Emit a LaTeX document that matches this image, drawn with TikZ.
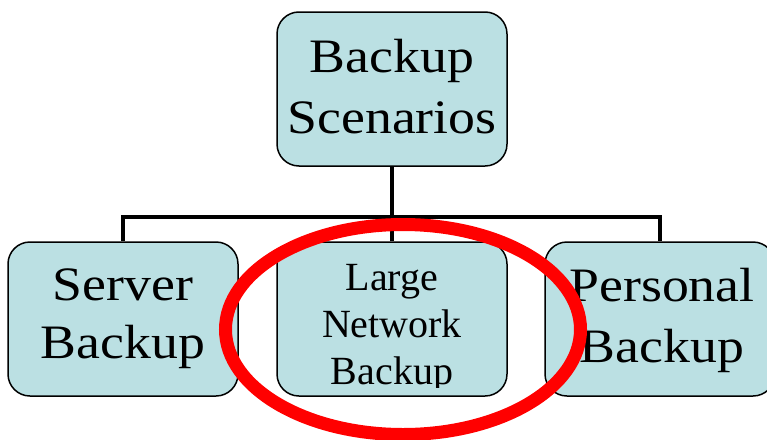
\documentclass[tikz,border=0pt]{standalone}
\usepackage{fontspec}
\usetikzlibrary{backgrounds}
\setmainfont{Liberation Serif}
\newfontfamily\wideserif[FakeStretch=1.12]{Liberation Serif}
\definecolor{boxfill}{RGB}{187,224,227}
\begin{document}
\begin{tikzpicture}[x=1pt,y=-1pt,
  box/.style={draw=black, line width=1.5pt, fill=boxfill, rounded corners=22pt,
    minimum width=230pt, minimum height=154pt, inner sep=0pt},
  link/.style={line width=4pt, draw=black},
  bigtext/.style={font=\wideserif\fontsize{48}{60}\selectfont, anchor=base, inner sep=0pt},
  smalltext/.style={font=\fontsize{40}{47}\selectfont, anchor=base, inner sep=0pt},
  ring/.style={draw=red, line width=13pt}]
\clip (0,0) rectangle (767,439);
\coordinate (bar) at (0,217);
% boxes
\node[box] (top) at (392,89) {};
\node[box] (server) at (123,319) {};
\node[box] (large) at (392,319) {};
\node[box] (personal) at (660,319) {};
% connectors behind the boxes
\begin{scope}[on background layer]
  \draw[link] (top.south) -- (top.south |- bar);
  \draw[link] (server.north) -- (server.north |- bar) -- (personal.north |- bar) -- (personal.north);
  \draw[link] (large.north) -- (large.north |- bar);
\end{scope}
% texts
\node[bigtext] (topA) at (392,72) {Backup};
\node[bigtext] (topB) at (392,133) {Scenarios};
\node[bigtext] (serverA) at (123,300) {Server};
\node[bigtext] (serverB) at (123,358) {Backup};
\node[bigtext] (personalA) at (662,301) {Personal};
\node[bigtext] (personalB) at (662,362) {Backup};
\begin{scope}
  \clip (277,242) rectangle (507,387);
  \node[smalltext] (largeA) at (392,290) {Large};
  \node[smalltext] (largeB) at (392,337) {Network};
  \node[smalltext] (largeC) at (392,384) {Backup};
\end{scope}
% red highlight ellipse
\draw[ring] (403,329.5) ellipse [x radius=177.5pt, y radius=105pt];
\end{tikzpicture}
\end{document}
